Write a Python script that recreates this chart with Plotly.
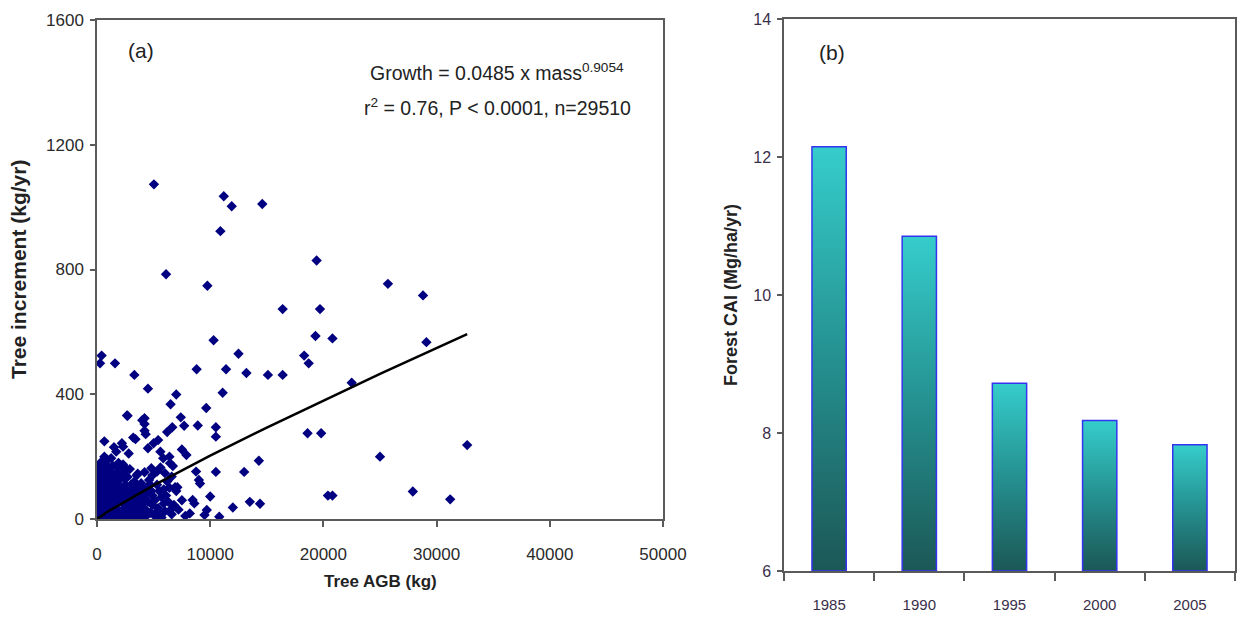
import plotly.graph_objects as go

# ---------------- Data (a): tree AGB (kg) vs increment (kg/yr) ----------------
agb_outliers = [5030, 11200, 11900, 14600, 10900, 19400, 6100, 9750, 25700, 16400,
                19700, 19300, 20800, 10300, 12500, 18300, 18700, 410, 270, 1590,
                3300, 8800, 11400, 13200, 15100, 16400, 22500, 4500, 7000, 11100,
                6500, 9650, 2700, 4200, 7400, 28800, 29100, 32700, 25000, 27900,
                31200, 18600, 19800, 14300, 13500, 14400, 20400, 20800]
inc_outliers = [1073, 1035, 1003, 1010, 923, 829, 785, 748, 754, 673,
                673, 587, 579, 573, 530, 524, 499, 524, 499, 499,
                462, 480, 480, 468, 462, 462, 437, 418, 399, 405,
                368, 356, 331, 323, 326, 717, 567, 237, 200, 88,
                63, 275, 275, 187, 55, 49, 75, 75]

agb_mid = [2650, 4000, 4200, 7700, 8900, 10500, 10500, 6650, 6200, 650,
           4200, 4300, 3200, 3400, 2200, 2300, 1700, 4500, 5000, 5400,
           5600, 5850, 6400, 6450, 7500, 7900, 4800, 5300, 6000, 6600,
           400, 100, 8750, 9000, 9100, 10500, 13000, 6900, 7100, 8450,
           8600, 10000, 9700, 9500, 10800, 12000, 8200, 5400]
inc_mid = [332, 317, 305, 299, 300, 294, 264, 294, 279, 249,
           283, 272, 261, 256, 243, 232, 216, 227, 243, 253,
           216, 195, 200, 179, 223, 205, 163, 152, 147, 136,
           184, 152, 152, 125, 114, 151, 151, 102, 102, 61,
           50, 72, 29, 13, 7, 37, 18, 13]

agb_dense = [50, 120, 80, 200, 30, 150, 60, 250, 180, 100, 300, 20,
             450, 600, 800, 500, 700, 420, 850, 650, 550, 900, 750, 480, 820,
             1050, 1200, 1400, 1100, 1300, 1450, 1150, 1350, 1250, 1500, 1000, 1400,
             1650, 1800, 2000, 1700, 1900, 2100, 1750, 2050, 1850, 1600, 2000,
             2250, 2400, 2600, 2300, 2500, 2700, 2450, 2650, 2350, 2550,
             2850, 3000, 3200, 2900, 3100, 3300, 3050, 2950, 3250,
             3450, 3600, 3800, 3500, 3700, 3950, 3650, 3900,
             4100, 4300, 4500, 4200, 4700, 4900, 4400, 4800, 4600,
             5100, 5400, 5700, 5300, 6000, 6300, 5900, 6600, 6800, 6200, 7200,
             250, 700, 1150, 1600, 2150, 2800, 3350, 900, 1900, 2600, 3500,
             150, 350, 550, 750, 950, 1150, 1350, 200, 400, 600, 800, 1000,
             1200, 1400, 1600, 1800, 2000, 2200, 2400, 2600, 2800, 3000, 3200,
             3400, 3600, 3800, 4000, 1100, 700, 300, 100, 500, 1300, 1700,
             2100, 2300, 2500, 2700, 2900, 3100, 3300, 3500, 3700, 3900, 4100,
             4300, 4500, 4700, 4900, 5100, 5300, 5500, 5700, 5900, 6100, 6400,
             6500, 7000, 7500, 7800, 650, 1250, 1900, 2300, 2900, 3600, 4200,
             4900, 5600, 6700, 1500, 2800]
inc_dense = [10, 35, 60, 85, 110, 130, 160, 20, 50, 95, 140, 170,
             5, 25, 45, 70, 95, 120, 140, 15, 55, 80, 110, 160, 175,
             10, 30, 50, 75, 100, 125, 150, 20, 60, 85, 115, 170,
             5, 30, 55, 80, 105, 130, 150, 15, 65, 120, 95,
             10, 35, 60, 85, 110, 135, 20, 75, 150, 45,
             5, 30, 55, 80, 100, 120, 15, 45, 85,
             10, 35, 60, 85, 105, 25, 75, 115,
             5, 30, 55, 80, 20, 45, 100, 90, 125,
             10, 35, 70, 110, 25, 55, 95, 15, 45, 120, 30,
             5, 8, 6, 4, 7, 5, 6, 190, 165, 160, 140,
             5, 15, 40, 65, 90, 120, 140, 100, 75, 100, 20, 45,
             100, 75, 55, 10, 130, 100, 70, 20, 95, 110, 10,
             55, 100, 30, 50, 160, 150, 65, 140, 125, 40, 105,
             80, 50, 130, 5, 60, 75, 35, 40, 15, 70, 95,
             65, 15, 110, 75, 60, 25, 90, 5, 50, 75, 100,
             30, 90, 60, 10, 200, 195, 180, 175, 160, 145, 150,
             140, 165, 170, 230, 210]

agb_all = agb_dense + agb_mid + agb_outliers
inc_all = inc_dense + inc_mid + inc_outliers

# fitted curve, values
fit_mass = [0, 1000, 5000, 10000, 15000, 20000, 25000, 32700]
fit_growth = [0, 25, 108, 203, 293, 380, 465, 593]

x_ticks_a = [0, 10000, 20000, 30000, 40000, 50000]
y_ticks_a = [0, 400, 800, 1200, 1600]

# ---------------- Data (b): forest CAI by year ----------------
years = ["1985", "1990", "1995", "2000", "2005"]
cai = [12.15, 10.85, 8.72, 8.18, 7.83]
cai_base = 6
y_ticks_b = [6, 8, 10, 12, 14]

FONT = "Liberation Sans, Arial, sans-serif"
W, H = 1239, 618
AX = "#5a5a5a"

fig = go.Figure()

fig.add_trace(go.Scatter(
    x=agb_all, y=inc_all, mode="markers",
    marker=dict(symbol="diamond", size=8, color="#000080", line=dict(width=0)),
    xaxis="x", yaxis="y", showlegend=False, hoverinfo="skip"))
fig.add_trace(go.Scatter(
    x=fit_mass, y=fit_growth, mode="lines",
    line=dict(color="black", width=2.5),
    xaxis="x", yaxis="y", showlegend=False, hoverinfo="skip"))

half = 0.19
for i, (yr, v) in enumerate(zip(years, cai)):
    xs = [i - half, i - half, i + half, i + half, i - half]
    ys = [cai_base, v, v, cai_base, cai_base]
    fig.add_trace(go.Scatter(
        x=xs, y=ys, mode="lines", fill="toself",
        fillgradient=dict(type="vertical",
                          colorscale=[[0, "#1b5856"], [0.5, "#259090"], [1, "#35cdcb"]]),
        line=dict(color="#3434f0", width=1.5),
        xaxis="x2", yaxis="y2", showlegend=False, hoverinfo="skip"))

axis_common = dict(showline=True, linecolor=AX, linewidth=1.5, mirror=True,
                   showgrid=False, zeroline=False, ticks="outside",
                   tickcolor=AX, tickwidth=1.5, automargin=False,
                   tickfont=dict(family=FONT, size=17, color="#2a2a2a"))

fig.update_layout(
    width=W, height=H,
    margin=dict(l=0, r=0, t=0, b=0, pad=0, autoexpand=False),
    paper_bgcolor="white", plot_bgcolor="white",
    xaxis=dict(domain=[97 / W, 663 / W], range=[0, 50000],
               tickvals=x_ticks_a, ticktext=[str(t) for t in x_ticks_a],
               ticklen=6, ticklabelstandoff=13, anchor="y", **axis_common),
    yaxis=dict(domain=[1 - 519 / H, 1 - 20 / H], range=[0, 1600],
               tickvals=y_ticks_a, ticktext=[str(t) for t in y_ticks_a],
               ticklen=5, ticklabelstandoff=3, anchor="x", **axis_common),
    xaxis2=dict(domain=[784 / W, 1235 / W], range=[-0.5, 4.5],
                tickvals=list(range(len(years))), ticktext=years,
                ticklen=0, ticklabelstandoff=19, anchor="y2",
                minor=dict(tickvals=[k - 0.5 for k in range(len(years) + 1)],
                           ticks="outside", ticklen=8, tickcolor=AX, tickwidth=1.5),
                **{**axis_common, "ticks": "",
                   "tickfont": dict(family=FONT, size=15, color="#3a2f4a")}),
    yaxis2=dict(domain=[1 - 571 / H, 1 - 19 / H], range=[6, 14],
                tickvals=y_ticks_b, ticktext=[str(t) for t in y_ticks_b],
                ticklen=5, ticklabelstandoff=3, anchor="x2",
                **{**axis_common,
                   "tickfont": dict(family=FONT, size=16, color="#3a2f4a")}),
)

ann = [
    dict(x=141 / W, y=1 - 50 / H, text="(a)", font=dict(size=21)),
    dict(x=832 / W, y=1 - 52 / H, text="(b)", font=dict(size=21)),
    dict(x=497 / W, y=1 - 72 / H, text="Growth = 0.0485 x mass<sup>0.9054</sup>", font=dict(size=19.5)),
    dict(x=497 / W, y=1 - 107 / H, text="r<sup>2</sup> = 0.76, P &lt; 0.0001, n=29510", font=dict(size=19.5)),
    dict(x=18 / W, y=1 - 270 / H, text="<b>Tree increment (kg/yr)</b>", textangle=-90, font=dict(size=21)),
    dict(x=380 / W, y=1 - 581 / H, text="<b>Tree AGB (kg)</b>", font=dict(size=17)),
    dict(x=731 / W, y=1 - 295 / H, text="<b>Forest CAI (Mg/ha/yr)</b>", textangle=-90, font=dict(size=18)),
]
for a in ann:
    a.update(xref="paper", yref="paper", showarrow=False,
             xanchor="center", yanchor="middle")
    a["font"] = dict(family=FONT, color="#222", size=a["font"]["size"])
fig.update_layout(annotations=ann)

fig.write_html("out.html")
